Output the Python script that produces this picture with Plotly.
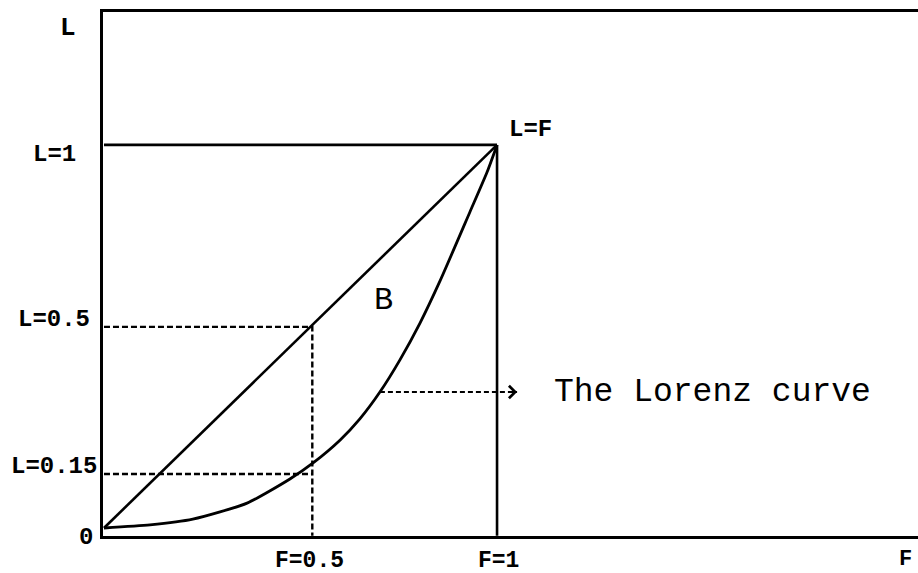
import plotly.graph_objects as go

# ---- data ----
lorenz_F = [0.0, 0.117, 0.226, 0.364, 0.473, 0.532, 0.601, 0.651, 0.702, 0.753, 0.804, 0.855, 0.931, 0.975, 1.0]
lorenz_L = [0.0, 0.008, 0.023, 0.065, 0.128, 0.170, 0.230, 0.285, 0.355, 0.439, 0.535, 0.645, 0.825, 0.930, 1.0]

equality_F = [0.0, 1.0]
equality_L = [0.0, 1.0]

box_top_F = [0.0, 1.0]
box_top_L = [1.0, 1.0]
box_side_F = [1.0, 1.0]
box_side_L = [1.0, -0.02]

guide_half_F = [0.0, 0.53, 0.53]
guide_half_L = [0.525, 0.525, -0.02]
guide_015_F = [0.0, 0.53]
guide_015_L = [0.141, 0.141]

arrow_F = [0.702, 1.051]
arrow_L = [0.355, 0.355]

y_labels = ["L=1", "L=0.5", "L=0.15", "0"]
y_label_vals = [1.0, 0.525, 0.141, 0.0]
x_labels = ["F=0.5", "F=1"]
x_label_vals = [0.524, 1.003]

fig = go.Figure()

solid = dict(color="black", width=2.6)
fig.add_trace(go.Scatter(x=box_top_F, y=box_top_L, mode="lines", line=solid))
fig.add_trace(go.Scatter(x=box_side_F, y=box_side_L, mode="lines", line=solid))
fig.add_trace(go.Scatter(x=equality_F, y=equality_L, mode="lines", line=solid))
fig.add_trace(go.Scatter(x=lorenz_F, y=lorenz_L, mode="lines",
                         line=dict(color="black", width=2.8, shape="spline", smoothing=0.6)))

dashed = dict(color="black", width=2.4, dash="6px,3px")
fig.add_trace(go.Scatter(x=guide_half_F, y=guide_half_L, mode="lines", line=dashed))
fig.add_trace(go.Scatter(x=guide_015_F, y=guide_015_L, mode="lines", line=dashed))
fig.add_trace(go.Scatter(x=arrow_F, y=arrow_L, mode="lines",
                         line=dict(color="black", width=2, dash="5px,3px")))

label_font = dict(family="Liberation Mono", size=24, color="black")

ann = []
shifts = [-10, 7, 7, -10]
for txt, val, sh in zip(y_labels, y_label_vals, shifts):
    xs = -17 if txt == "0" else -49
    ann.append(dict(text="<b>%s</b>" % txt, xref="paper", x=0, xshift=xs, xanchor="center",
                    yref="y", y=val, yshift=sh, yanchor="middle", showarrow=False,
                    font=label_font))
for txt, val in zip(x_labels, x_label_vals):
    ann.append(dict(text="<b>%s</b>" % txt, xref="x", x=val, xanchor="center",
                    yref="paper", y=0, yshift=-25, yanchor="middle", showarrow=False,
                    font=dict(family="Liberation Mono", size=23, color="black")))
# axis names
ann.append(dict(text="<b>L</b>", xref="paper", x=0, xshift=-35, xanchor="center",
                yref="paper", y=0.969, yanchor="middle", showarrow=False,
                font=dict(family="Liberation Mono", size=26, color="black")))
ann.append(dict(text="<b>F</b>", xref="x", x=2.040, xanchor="center",
                yref="paper", y=0, yshift=-23, yanchor="middle", showarrow=False,
                font=dict(family="Liberation Mono", size=22, color="black")))
ann.append(dict(text="<b>L=F</b>", xref="x", x=1.084, xanchor="center",
                yref="y", y=1.039, yanchor="middle", showarrow=False, font=label_font))
ann.append(dict(text="B", xref="x", x=0.710, xanchor="center",
                yref="y", y=0.595, yanchor="middle", showarrow=False,
                font=dict(family="Liberation Mono", size=32, color="black")))
ann.append(dict(text="The Lorenz curve", xref="x", x=1.140, xanchor="left",
                yref="y", y=arrow_L[0], yanchor="middle", showarrow=False,
                font=dict(family="Liberation Mono", size=33, color="black")))
# arrow head (open chevron)
ann.append(dict(x=arrow_F[1], y=arrow_L[1], ax=arrow_F[1] - 0.02, ay=arrow_L[1],
                xref="x", yref="y", axref="x", ayref="y", text="", showarrow=True,
                arrowhead=4, arrowsize=1.2, arrowwidth=2, arrowcolor="black"))

fig.update_layout(
    width=918, height=573,
    margin=dict(l=103, r=0, t=12, b=37),
    paper_bgcolor="white", plot_bgcolor="white",
    showlegend=False,
    annotations=ann,
    xaxis=dict(range=[-0.0025, 2.071], showgrid=False, zeroline=False, showticklabels=False,
               ticks="", showline=True, linecolor="black", linewidth=3, mirror=True),
    yaxis=dict(range=[-0.0209, 1.347], showgrid=False, zeroline=False, showticklabels=False,
               ticks="", showline=True, linecolor="black", linewidth=3),
)

# remove the default page margin so the figure fills the window exactly
fig.write_html("out.html", config={"displayModeBar": False},
               post_script="document.body.style.margin='0';document.body.style.overflow='hidden';")
